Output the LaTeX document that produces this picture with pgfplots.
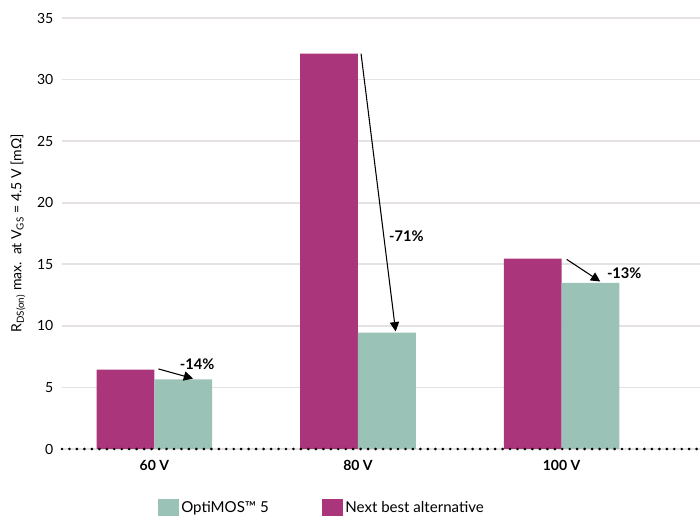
\documentclass[border=0pt]{standalone}
\usepackage{pgfplots}
\pgfplotsset{compat=1.18}
\usepackage{fontspec}
\setmainfont{Lato}
\usetikzlibrary{arrows.meta}
\definecolor{magbar}{RGB}{170,53,122}
\definecolor{tealbar}{RGB}{155,194,182}
\definecolor{gridc}{RGB}{230,226,228}
\begin{document}
\begin{tikzpicture}
\path[use as bounding box] (-46.5pt,-51pt) rectangle (478.5pt,336.75pt);
\begin{axis}[
  at={(0pt,0pt)}, anchor=south west,
  scale only axis, width=478.5pt, height=323.25pt,
  xmin=-0.454, xmax=2.68, ymin=0, ymax=35,
  axis line style={draw=none},
  ymajorgrids, grid style={gridc, line width=1.3pt},
  ytick={0,5,...,35},
  xtick={0,1,2}, xticklabels={\textbf{60 V},\textbf{80 V},\textbf{100 V}},
  major tick length=0pt,
  ticklabel style={font=\fontsize{10.5}{12}\selectfont},
  xticklabel style={font=\fontsize{10.5}{12}\selectfont, yshift=-5pt},
  yticklabel style={xshift=-3pt},
  /pgf/number format/assume math mode=true,
  clip=false,
  ylabel={R\textsubscript{DS(on)} max.\ \ at V\textsubscript{GS} = 4.5 V [mΩ]},
  ylabel style={at={(axis description cs:-0.069,0.5)}, anchor=center, font=\fontsize{10.5}{12}\selectfont},
  ybar=0pt, bar width=0.284,
  legend columns=2,
  legend style={draw=none, at={(axis description cs:0.408,0)}, anchor=center, yshift=-44pt, font=\fontsize{11.3}{13}\selectfont, /tikz/every even column/.append style={column sep=38pt}},
  legend image code/.code={\fill[#1] (0pt,-5.5pt) rectangle (15pt,6pt);},
]
\addlegendimage{tealbar, fill=tealbar}
\addlegendentry{OptiMOS™ 5}
\addlegendimage{magbar, fill=magbar}
\addlegendentry{Next best alternative}
\addplot[fill=magbar, draw=none, bar shift=-0.142, forget plot] coordinates {(0,6.45) (1,32.1) (2,15.45)};
\addplot[fill=tealbar, draw=none, bar shift=0.142, forget plot] coordinates {(0,5.65) (1,9.45) (2,13.5)};
\draw[dash pattern=on 0pt off 5.6pt, line cap=round, line width=2.2pt] (axis cs:-0.454,0) -- (axis cs:2.68,0);
\draw[-{Triangle[length=7pt,width=7pt]}, line width=0.8pt] (axis cs:0.02,6.5) -- (axis cs:0.19,5.72);
\draw[-{Triangle[length=7pt,width=7pt]}, line width=0.8pt] (axis cs:1.015,32.1) -- (axis cs:1.185,9.55);
\draw[-{Triangle[length=7pt,width=7pt]}, line width=0.8pt] (axis cs:2.025,15.4) -- (axis cs:2.19,13.6);
\node[font=\bfseries\fontsize{11}{13}\selectfont] at (axis cs:0.21,6.9) {-14\%};
\node[font=\bfseries\fontsize{11}{13}\selectfont, anchor=west] at (axis cs:1.13,17.3) {-71\%};
\node[font=\bfseries\fontsize{11}{13}\selectfont, anchor=west] at (axis cs:2.2,14.3) {-13\%};
\end{axis}
\end{tikzpicture}
\end{document}
